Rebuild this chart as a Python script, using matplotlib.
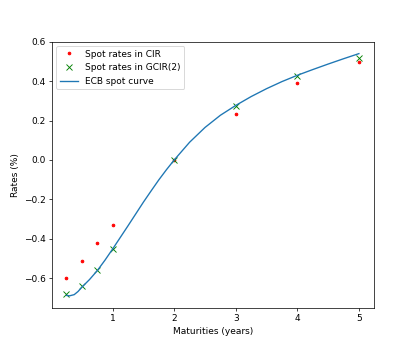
import matplotlib
matplotlib.use("Agg")
import matplotlib.pyplot as plt

maturities = [0.25, 0.5, 0.75, 1, 2, 3, 4, 5]
cir_rates = [-0.600, -0.514, -0.422, -0.330, 0.000, 0.235, 0.390, 0.496]
gcir_rates = [-0.680, -0.642, -0.560, -0.452, 0.000, 0.273, 0.427, 0.520]

curve_x = [0.25, 0.3, 0.375, 0.4375, 0.5, 0.625, 0.75, 0.875, 1.0, 1.125,
           1.25, 1.375, 1.5, 1.625, 1.75, 1.875, 2.0, 2.25, 2.5, 2.75, 3.0,
           3.25, 3.5, 3.75, 4.0, 4.25, 4.5, 4.75, 5.0]
curve_y = [-0.688, -0.690, -0.684, -0.668, -0.646, -0.607, -0.562, -0.509,
           -0.452, -0.393, -0.334, -0.274, -0.214, -0.157, -0.101, -0.049,
           0.000, 0.090, 0.165, 0.227, 0.277, 0.322, 0.362, 0.398, 0.430,
           0.459, 0.487, 0.514, 0.540]

fig = plt.figure(figsize=(415 / 65, 346 / 65), dpi=65)
ax = fig.add_subplot(111)
ax.plot(maturities, cir_rates, 'r.', label='Spot rates in CIR')
ax.plot(maturities, gcir_rates, 'gx', label='Spot rates in GCIR(2)')
ax.plot(curve_x, curve_y, label='ECB spot curve')
ax.set_xlabel('Maturities (years)')
ax.set_ylabel('Rates (%)')
ax.legend(loc='upper left')
fig.savefig('out.png', dpi=65)
